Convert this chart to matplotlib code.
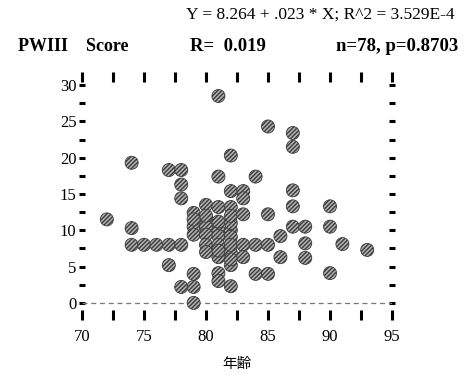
import matplotlib
matplotlib.use('Agg')
import matplotlib.pyplot as plt
from matplotlib.ticker import MultipleLocator

# age vs PWIII score
age = [72, 74, 74, 74, 75, 76, 77, 78, 77, 78, 78, 78, 77, 78, 79, 79, 79,
       81, 82, 81, 84, 82, 83, 83, 80, 81, 82, 79, 80, 79, 80, 81, 82, 79,
       80, 81, 82, 82, 80, 81, 82, 83, 84, 85, 81, 83, 82, 81, 81, 84, 85,
       82, 85, 87, 87, 87, 87, 90, 85, 87, 88, 90, 86, 88, 91, 93, 86, 88,
       90, 82, 80, 81, 82, 83, 79, 80, 82, 81]
score = [11.5, 19.3, 10.3, 8, 8, 8, 8, 8, 18.3, 18.3, 16.3, 14.4, 5.2, 2.2,
         2.2, 4.0, 0, 28.5, 20.3, 17.4, 17.4, 15.4, 15.4, 14.4, 13.5, 13.2,
         13.2, 12.4, 11.7, 10.5, 10.5, 10.0, 10.0, 9.4, 9.4, 9.2, 9.1, 6.9,
         8, 8, 8, 8, 8, 8, 6.3, 6.3, 5.2, 4.1, 3.0, 4.0, 4.0, 2.3, 24.3, 23.4,
         21.5, 15.5, 13.3, 13.3, 12.2, 10.5, 10.5, 10.5, 9.2, 8.2, 8.1, 7.3,
         6.3, 6.2, 4.1, 11.0, 12.0, 11.2, 12.0, 12.2, 11.5, 7.0, 6.0, 7.2]

xticks = [70, 75, 80, 85, 90, 95]
yticks = [0, 5, 10, 15, 20, 25, 30]

serif = 'Liberation Serif'

fig = plt.figure(figsize=(4.7, 3.78), dpi=100)
ax = fig.add_axes([0.1745, 0.167, 0.6596, 0.629])

ax.scatter(age, score, s=88, facecolor='#b4b4b4', edgecolor='#3a3a3a',
           hatch='////////', linewidth=0.6, zorder=3)
ax.axhline(0, color='#777777', linestyle=(0, (4, 3)), linewidth=0.9, zorder=2)

ax.set_xlim(70, 95)
ax.set_ylim(-1.65, 31.1)
for s in ax.spines.values():
    s.set_visible(False)

ax.set_xticks(xticks)
ax.set_yticks(yticks)
ax.xaxis.set_minor_locator(MultipleLocator(2.5))
ax.yaxis.set_minor_locator(MultipleLocator(2.5))
ax.tick_params(axis='x', which='both', top=True, bottom=True, direction='inout',
               length=7, width=2.2, color='black', pad=7)
ax.tick_params(axis='y', which='both', left=True, right=True, direction='inout',
               length=4, width=2.2, color='black', pad=2)
for lab in ax.get_xticklabels() + ax.get_yticklabels():
    lab.set_fontfamily(serif)
    lab.set_fontsize(12)

ax.set_xlabel('年齢', fontfamily=['Noto Sans CJK JP', 'DejaVu Sans'],
              fontsize=10.5, labelpad=8)

fig.text(0.968, 0.962, 'Y = 8.264 + .023 * X; R^2 = 3.529E-4', ha='right',
         va='center', fontfamily=serif, fontsize=12.5)
fig.text(0.038, 0.878, 'PWIII    Score', ha='left', va='center',
         fontfamily=serif, fontweight='bold', fontsize=13)
fig.text(0.404, 0.878, 'R=  0.019', ha='left', va='center',
         fontfamily=serif, fontweight='bold', fontsize=13.5)
fig.text(0.975, 0.878, 'n=78, p=0.8703', ha='right', va='center',
         fontfamily=serif, fontweight='bold', fontsize=13.5)

fig.savefig('out.png', dpi=100)
